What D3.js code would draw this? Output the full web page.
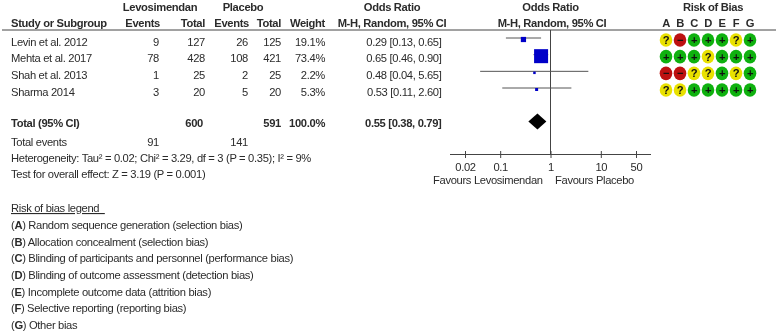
<!DOCTYPE html>
<html>
<head>
<meta charset="utf-8">
<script src="https://cdn.jsdelivr.net/npm/d3@7"></script>
<style>
  html, body { margin: 0; padding: 0; background: #fff; }
  svg { display: block; filter: blur(0.4px); }
  text { font-family: "Liberation Sans", Arial, sans-serif; font-size: 11.2px; letter-spacing: -0.33px; fill: #2b2b2b; }
  .b { font-weight: bold; }
</style>
</head>
<body>
<svg></svg>
<script>
// values
var studies = ["Levin et al. 2012", "Mehta et al. 2017", "Shah et al. 2013", "Sharma 2014"];
var levoEvents = [9, 78, 1, 3];
var levoTotal = [127, 428, 25, 20];
var placeboEvents = [26, 108, 2, 5];
var placeboTotal = [125, 421, 25, 20];
var weights = [19.1, 73.4, 2.2, 5.3];
var oddsRatio = [0.29, 0.65, 0.48, 0.53];
var ciLow = [0.13, 0.46, 0.04, 0.11];
var ciHigh = [0.65, 0.90, 5.65, 2.60];
var pooled = [0.55, 0.38, 0.79];
var oddsTicks = [0.02, 0.1, 1, 10, 50];
var biasColumns = ["A", "B", "C", "D", "E", "F", "G"];
var biasRows = [
  ["?", "-", "+", "+", "+", "?", "+"],
  ["+", "+", "+", "?", "+", "+", "+"],
  ["-", "-", "?", "?", "+", "?", "+"],
  ["?", "?", "+", "+", "+", "+", "+"]
];
var legendItems = [
  ["A", "Random sequence generation (selection bias)"],
  ["B", "Allocation concealment (selection bias)"],
  ["C", "Blinding of participants and personnel (performance bias)"],
  ["D", "Blinding of outcome assessment (detection bias)"],
  ["E", "Incomplete outcome data (attrition bias)"],
  ["F", "Selective reporting (reporting bias)"],
  ["G", "Other bias"]
];

var svgWidth = 778, svgHeight = 334;
var svg = d3.select("svg").attr("width", svgWidth).attr("height", svgHeight);

var x = d3.scaleLog().domain([0.02, 50]).range([465, 636]);
var size = d3.scaleLinear().domain([2.2, 73.4]).range([2.5, 14]);
var rowY = d3.scalePoint().domain(d3.range(4)).range([45.5, 96]); // text baselines
var biasX = d3.scalePoint().domain(biasColumns).range([666, 750]);
var biasY = d3.scalePoint().domain(d3.range(4)).range([40, 90]);
var biasColor = { "+": "#0fb10f", "?": "#e9e100", "-": "#bd1111" };

function label(t, px, py, anchor, bold) {
  return svg.append("text")
    .attr("x", px).attr("y", py)
    .attr("text-anchor", anchor || "start")
    .attr("class", bold ? "b" : null)
    .text(t);
}

// headers
label("Levosimendan", 160, 11, "middle", true);
label("Placebo", 243, 11, "middle", true);
label("Odds Ratio", 392, 11, "middle", true);
label("Odds Ratio", 550.5, 11, "middle", true);
label("Risk of Bias", 713, 11, "middle", true);
label("Study or Subgroup", 11, 27, "start", true);
label("Events", 160, 27, "end", true);
label("Total", 205, 27, "end", true);
label("Events", 249, 27, "end", true);
label("Total", 281, 27, "end", true);
label("Weight", 325, 27, "end", true);
label("M-H, Random, 95% CI", 392, 27, "middle", true);
label("M-H, Random, 95% CI", 552, 27, "middle", true);
biasColumns.forEach(function(c) { label(c, biasX(c), 27, "middle", true); });

svg.append("line").attr("x1", 2).attr("x2", 776).attr("y1", 30).attr("y2", 30)
  .attr("stroke", "#444").attr("stroke-width", 1);

// table rows
studies.forEach(function(s, i) {
  var y = rowY(i);
  label(s, 11, y);
  label(levoEvents[i], 159, y, "end");
  label(levoTotal[i], 205, y, "end");
  label(placeboEvents[i], 248, y, "end");
  label(placeboTotal[i], 281, y, "end");
  label(weights[i].toFixed(1) + "%", 325, y, "end");
  label(oddsRatio[i].toFixed(2) + " [" + ciLow[i].toFixed(2) + ", " + ciHigh[i].toFixed(2) + "]", 441.5, y, "end");
});

// totals
label("Total (95% CI)", 11, 127, "start", true);
label(d3.sum(levoTotal), 203, 127, "end", true);
label(d3.sum(placeboTotal), 281, 127, "end", true);
label("100.0%", 325, 127, "end", true);
label(pooled[0].toFixed(2) + " [" + pooled[1].toFixed(2) + ", " + pooled[2].toFixed(2) + "]", 441.5, 127, "end", true);

label("Total events", 11, 146);
label(d3.sum(levoEvents), 159, 146, "end");
label(d3.sum(placeboEvents), 248, 146, "end");
label("Heterogeneity: Tau\u00b2 = 0.02; Chi\u00b2 = 3.29, df = 3 (P = 0.35); I\u00b2 = 9%", 11, 162);
label("Test for overall effect: Z = 3.19 (P = 0.001)", 11, 178);

// forest plot
svg.append("line").attr("x1", x(1)).attr("x2", x(1)).attr("y1", 30).attr("y2", 154)
  .attr("stroke", "#444").attr("stroke-width", 1);

svg.selectAll(".ci").data(studies).enter().append("line")
  .attr("class", "ci")
  .attr("x1", function(d, i) { return x(ciLow[i]); })
  .attr("x2", function(d, i) { return x(ciHigh[i]); })
  .attr("y1", function(d, i) { return biasY(i) - 2; })
  .attr("y2", function(d, i) { return biasY(i) - 2; })
  .attr("stroke", "#555").attr("stroke-width", 1);

svg.selectAll(".sq").data(studies).enter().append("rect")
  .attr("class", "sq")
  .attr("x", function(d, i) { return x(oddsRatio[i]) - size(weights[i]) / 2; })
  .attr("y", function(d, i) { return biasY(i) - size(weights[i]) / 2 - 0.5; })
  .attr("width", function(d, i) { return size(weights[i]); })
  .attr("height", function(d, i) { return size(weights[i]); })
  .attr("fill", "#0000c8");

svg.append("path")
  .attr("d", "M" + [x(pooled[1]) - 1, 121.5] + "L" + [x(pooled[0]), 113.5] + "L" + [x(pooled[2]) + 1, 121.5] + "L" + [x(pooled[0]), 129.5] + "Z")
  .attr("fill", "#000");

var axis = svg.append("g")
  .attr("transform", "translate(0,154)")
  .call(d3.axisBottom(x).tickValues(oddsTicks).tickFormat(function(d) { return d; }).tickSize(0).tickPadding(9));
axis.select(".domain").attr("d", "M450,0.5H651").attr("stroke", "#444");
axis.selectAll(".tick").append("line").attr("y1", -3).attr("y2", 4).attr("stroke", "#444");
axis.attr("font-size", null).attr("font-family", null);

label("Favours Levosimendan", 433, 184);
label("Favours Placebo", 555, 184);

// risk of bias dots
biasRows.forEach(function(row, r) {
  var g = svg.append("g");
  g.selectAll("ellipse").data(row).enter().append("ellipse")
    .attr("cx", function(d, i) { return biasX(biasColumns[i]); })
    .attr("cy", biasY(r))
    .attr("rx", 6.3).attr("ry", 6.8)
    .attr("fill", function(d) { return biasColor[d]; });
  g.selectAll("text").data(row).enter().append("text")
    .attr("x", function(d, i) { return biasX(biasColumns[i]); })
    .attr("y", biasY(r) + 4)
    .attr("text-anchor", "middle")
    .attr("class", "b")
    .style("fill", "#111")
    .text(function(d) { return d === "-" ? "\u2212" : d; });
});

// legend
label("Risk of bias legend  ", 11, 212).attr("text-decoration", "underline").style("white-space", "pre");
var legendY = d3.scalePoint().domain(d3.range(legendItems.length)).range([229, 329]);
legendItems.forEach(function(d, i) {
  var t = svg.append("text").attr("x", 11).attr("y", legendY(i));
  t.append("tspan").text("(");
  t.append("tspan").attr("class", "b").text(d[0]);
  t.append("tspan").text(") " + d[1]);
});
</script>
</body>
</html>
